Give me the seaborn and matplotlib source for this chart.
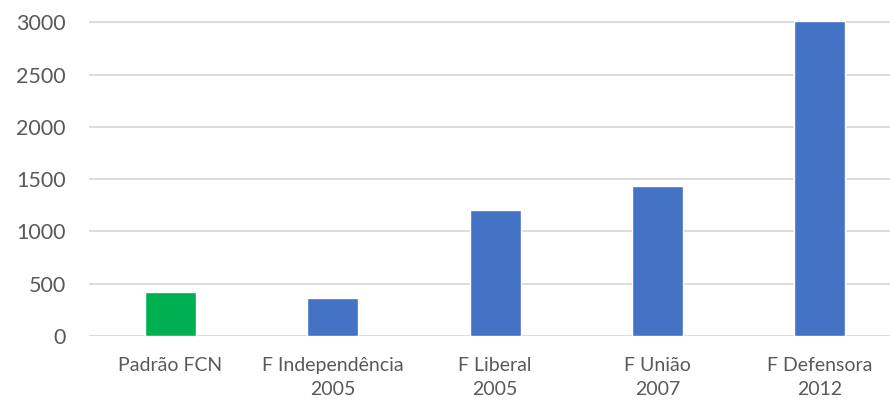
import matplotlib
matplotlib.use("Agg")
import matplotlib.pyplot as plt
import seaborn as sns
import pandas as pd

categorias = ["Padrão FCN", "F Independência\n2005", "F Liberal\n2005", "F União\n2007", "F Defensora\n2012"]
valores = [420, 365, 1205, 1432, 3015]
cores = ["#00B050", "#4472C4", "#4472C4", "#4472C4", "#4472C4"]

df = pd.DataFrame({"cat": categorias, "val": valores})

sns.set_style("white")
plt.rcParams["font.family"] = ["Lato", "DejaVu Sans"]

fig = plt.figure(figsize=(8.9, 4.03), dpi=100)
ax = fig.add_axes([89.4 / 890, 67 / 403, 800.6 / 890, 316.8 / 403])

sns.barplot(data=df, x="cat", y="val", hue="cat", palette=cores, legend=False,
            width=0.314, saturation=1, ax=ax, zorder=3)

ax.set_xlim(-0.5, 4.433)
ax.set_ylim(0, 3030)
ax.set_yticks([0, 500, 1000, 1500, 2000, 2500, 3000])
ax.yaxis.grid(True, color="#d9d9d9", linewidth=1.3, zorder=0)
ax.set_axisbelow(True)
ax.set_xlabel("")
ax.set_ylabel("")
for s in ax.spines.values():
    s.set_visible(False)
ax.tick_params(axis="y", length=0, pad=17, labelsize=15.5, labelcolor="#595959")
ax.tick_params(axis="x", length=0, pad=15, labelsize=14, labelcolor="#595959")
for t in ax.get_xticklabels():
    t.set_linespacing(1.5)

fig.savefig("out.png", dpi=100)
